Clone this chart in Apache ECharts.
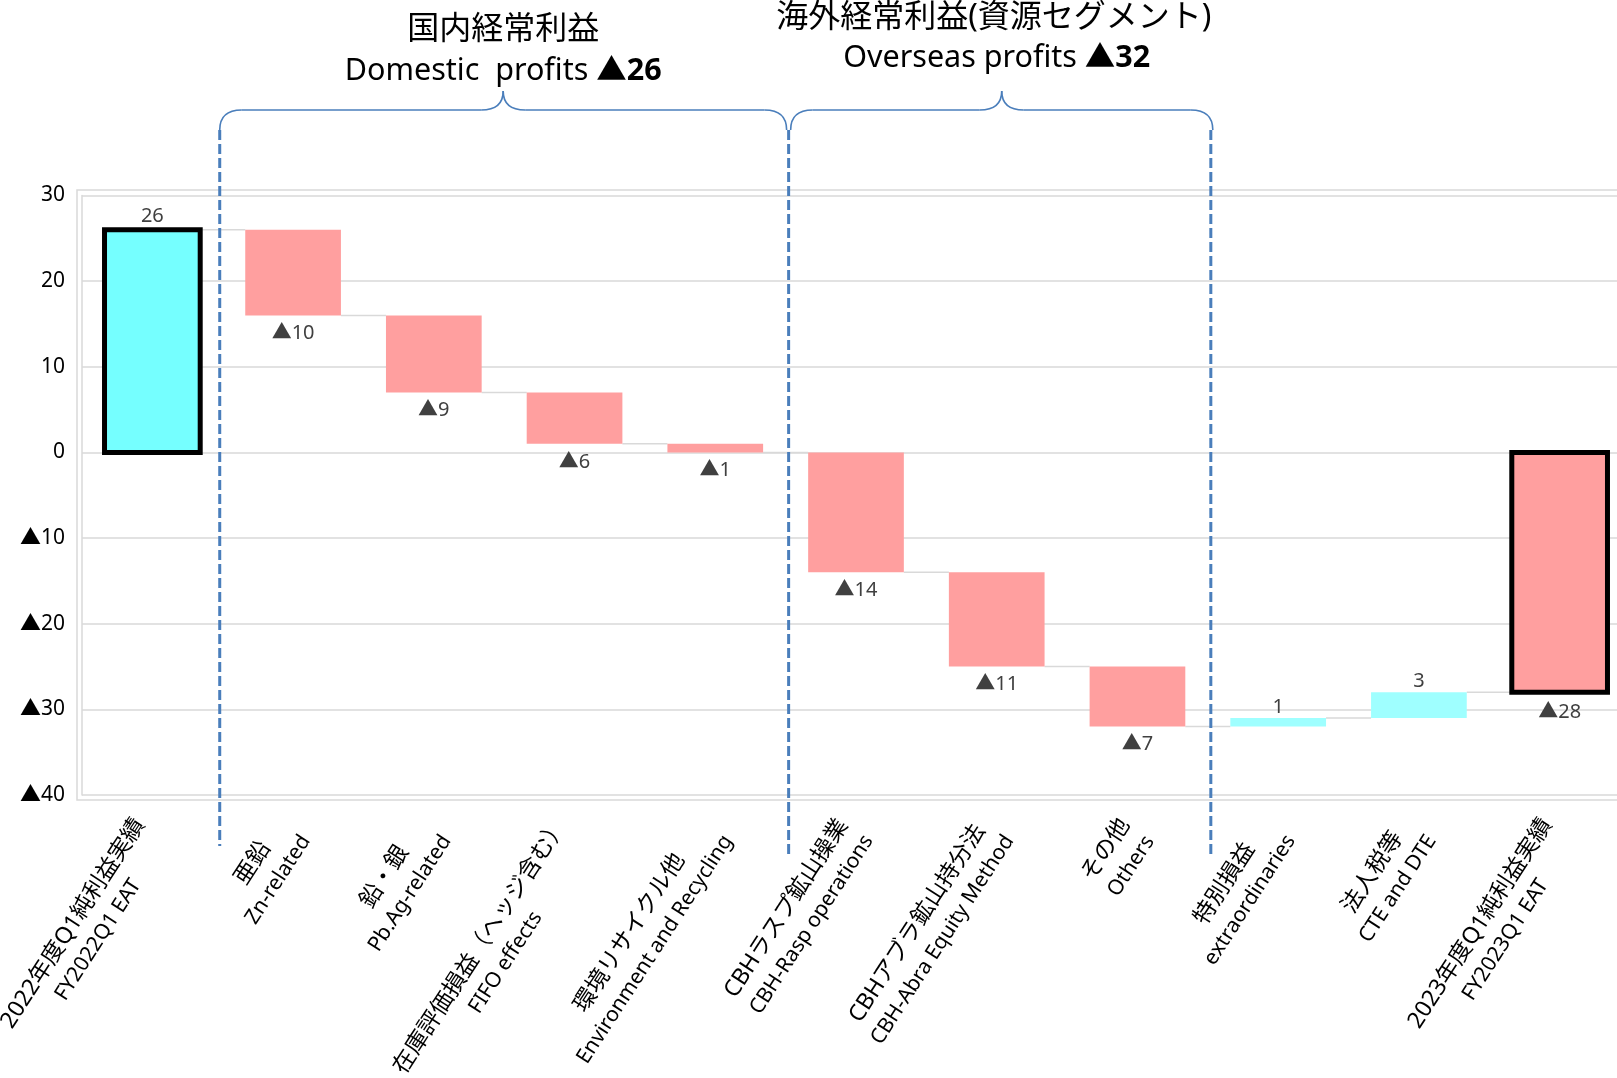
<!DOCTYPE html>
<html><head><meta charset="utf-8">
<script src="https://cdn.jsdelivr.net/npm/echarts@6/dist/echarts.min.js"></script>
<style>html,body{margin:0;padding:0;background:#fff}#chart{width:1617px;height:1078px}</style>
</head><body><div id="chart"></div>
<script>
// ---- data ----
const categoriesJa = [
  '2022年度Q1純利益実績', '亜鉛', '鉛・銀', '在庫評価損益（ヘッジ含む）', '環境リサイクル他',
  'CBHラスプ鉱山操業', 'CBHアブラ鉱山持分法', 'その他', '特別損益', '法人税等', '2023年度Q1純利益実績'
];
const categoriesEn = [
  'FY2022Q1 EAT', 'Zn-related', 'Pb.Ag-related', 'FIFO effects', 'Environment and Recycling',
  'CBH-Rasp operations', 'CBH-Abra Equity Method', 'Others', 'extraordinaries', 'CTE and DTE', 'FY2023Q1 EAT'
];
const startValue = 26;
const deltas = [-10, -9, -6, -1, -14, -11, -7, 1, 3];
const endValue = -28;
const yMin = -40, yMax = 30, yStep = 10;
const groupTitlesJa = ['国内経常利益', '海外経常利益(資源セグメント)'];
const groupTitlesEn = ['Domestic  profits', 'Overseas profits'];
const groupFirstIndex = [1, 5];   // first category of each group
const groupLastIndex = [4, 7];    // last category of each group

const categories = categoriesJa.map((j, k) => j + '\n' + categoriesEn[k]);

// ---- build waterfall rows ----
const rows = [];
rows.push([0, 0, startValue, 'total']);
let level = startValue;
deltas.forEach((d, k) => { rows.push([k + 1, level, level + d, d < 0 ? 'neg' : 'pos']); level += d; });
rows.push([categories.length - 1, 0, endValue, 'total']);

const FONT = '"Noto Sans", "Noto Sans CJK JP", sans-serif';
const fmt = v => v < 0 ? '▲' + (-v) : String(v);

const chart = echarts.init(document.getElementById('chart'), null, {renderer: 'canvas'});

chart.setOption({
  animation: false,
  backgroundColor: '#fff',
  grid: {left: 82, width: 1548, top: 195.5, bottom: 283, containLabel: false, outerBoundsMode: 'none'},
  xAxis: {
    type: 'category', data: categories,
    axisLine: {show: false}, axisTick: {show: false},
    axisLabel: {
      interval: 0, rotate: 57, margin: 34,
      formatter: v => { const p = v.split('\n'); return '{j|' + p[0] + '}\n{e|' + p[1] + '}'; },
      rich: {
        j: {align: 'center', fontSize: 23, lineHeight: 30, color: '#000', fontFamily: FONT},
        e: {align: 'center', fontSize: 21, lineHeight: 30, color: '#000', fontFamily: FONT}
      }
    }
  },
  yAxis: {
    type: 'value', min: yMin, max: yMax, interval: yStep,
    axisLine: {show: true, lineStyle: {color: '#d9d9d9', width: 1.5}},
    axisTick: {show: false},
    axisLabel: {formatter: fmt, fontSize: 21, color: '#000', margin: 17, fontFamily: FONT},
    splitLine: {lineStyle: {color: '#d9d9d9', width: 1.5}}
  },
  series: [{
    type: 'custom',
    clip: false,
    encode: {x: 0, y: [1, 2]},
    data: rows.map(r => [r[0], r[1], r[2]]),
    renderItem: function (params, api) {
      const idx = params.dataIndex;
      const kind = rows[idx][3];
      const i = api.value(0), from = api.value(1), to = api.value(2);
      const top = api.coord([i, Math.max(from, to)]);
      const bot = api.coord([i, Math.min(from, to)]);
      const bw = api.size([1, 0])[0] * 0.68;
      const children = [];
      if (idx < rows.length - 1) {
        const a = api.coord([i, to]);
        const b = api.coord([i + 1, to]);
        children.push({type: 'line', shape: {x1: a[0] + bw / 2, y1: a[1], x2: b[0] - bw / 2, y2: b[1]},
          style: {stroke: '#d9d9d9', lineWidth: 1.5}});
      }
      const v = to - from;
      let fill;
      if (kind === 'total') fill = v >= 0 ? '#75ffff' : '#ff9f9f';
      else fill = v >= 0 ? '#9fffff' : '#ff9f9f';
      const isTotal = kind === 'total';
      children.push({type: 'rect',
        shape: {x: top[0] - bw / 2, y: top[1], width: bw, height: bot[1] - top[1]},
        style: {fill: fill, stroke: isTotal ? '#000' : null, lineWidth: isTotal ? 5 : 0}});
      const pad = isTotal ? 2.5 : 0;
      const ly = v >= 0 ? top[1] - pad - 11 : bot[1] + pad + 18;
      children.push({type: 'text', x: top[0], y: ly,
        style: {text: fmt(v), fill: '#404040', fontSize: 20, fontFamily: FONT, align: 'center', verticalAlign: 'middle'}});
      return {type: 'group', children: children};
    }
  }]
});

// ---- annotations: group separators, braces, titles ----
function catX(i) { return chart.convertToPixel({xAxisIndex: 0}, i); }
const bounds = [
  (catX(0) + catX(1)) / 2 - 3,
  (catX(4) + catX(5)) / 2 + 3,
  (catX(7) + catX(8)) / 2 + 3
];
const lineEnds = [846, 855, 858];
const graphics = [];
graphics.push({type: 'rect', shape: {x: 77, y: 190, width: 1620, height: 610}, silent: true, z: -1,
  style: {fill: 'none', stroke: '#d9d9d9', lineWidth: 1.5}});
bounds.forEach((x, k) => {
  graphics.push({type: 'line', shape: {x1: x, y1: 130, x2: x, y2: lineEnds[k]}, z: 100,
    style: {stroke: '#4a7ebb', lineWidth: 3, lineDash: [10, 4]}});
});
const braceStyle = {fill: 'none', stroke: '#4a7ebb', lineWidth: 1.6};
function addBrace(x0, x1, yb, yh, yt) {
  const xc = (x0 + x1) / 2, r = 22;
  const segs = [
    {type: 'bezierCurve', shape: {x1: x0, y1: yb, cpx1: x0, cpy1: yh, x2: x0 + r, y2: yh}},
    {type: 'line', shape: {x1: x0 + r, y1: yh, x2: xc - r, y2: yh}},
    {type: 'bezierCurve', shape: {x1: xc - r, y1: yh, cpx1: xc, cpy1: yh, x2: xc, y2: yt}},
    {type: 'bezierCurve', shape: {x1: xc, y1: yt, cpx1: xc, cpy1: yh, x2: xc + r, y2: yh}},
    {type: 'line', shape: {x1: xc + r, y1: yh, x2: x1 - r, y2: yh}},
    {type: 'bezierCurve', shape: {x1: x1 - r, y1: yh, cpx1: x1, cpy1: yh, x2: x1, y2: yb}}
  ];
  segs.forEach(s => { s.style = braceStyle; graphics.push(s); });
}
const braceX = [[bounds[0], bounds[1] - 2], [bounds[1] + 2, bounds[2] + 2]];
const jaY = [30, 18], enY = [71, 58];
const jaDx = [0, -8], enDx = [0, -5];
braceX.forEach((bx, g) => {
  addBrace(bx[0], bx[1], 130, 110, 91);
  const xc = (bx[0] + bx[1]) / 2;
  let sum = 0;
  for (let k = groupFirstIndex[g]; k <= groupLastIndex[g]; k++) sum += deltas[k - 1];
  graphics.push({type: 'text', x: xc + jaDx[g], y: jaY[g],
    style: {text: groupTitlesJa[g], fontSize: 32, fontFamily: FONT, fill: '#000', align: 'center', verticalAlign: 'middle'}});
  graphics.push({type: 'text', x: xc + enDx[g], y: enY[g],
    style: {text: groupTitlesEn[g] + ' {b|' + fmt(sum) + '}', fontSize: 30.5, fontFamily: FONT, fill: '#000',
      align: 'center', verticalAlign: 'middle',
      rich: {b: {fontSize: 30.5, fontWeight: 'bold', fontFamily: FONT, fill: '#000'}}}});
});
chart.setOption({graphic: graphics});
</script>
</body></html>
